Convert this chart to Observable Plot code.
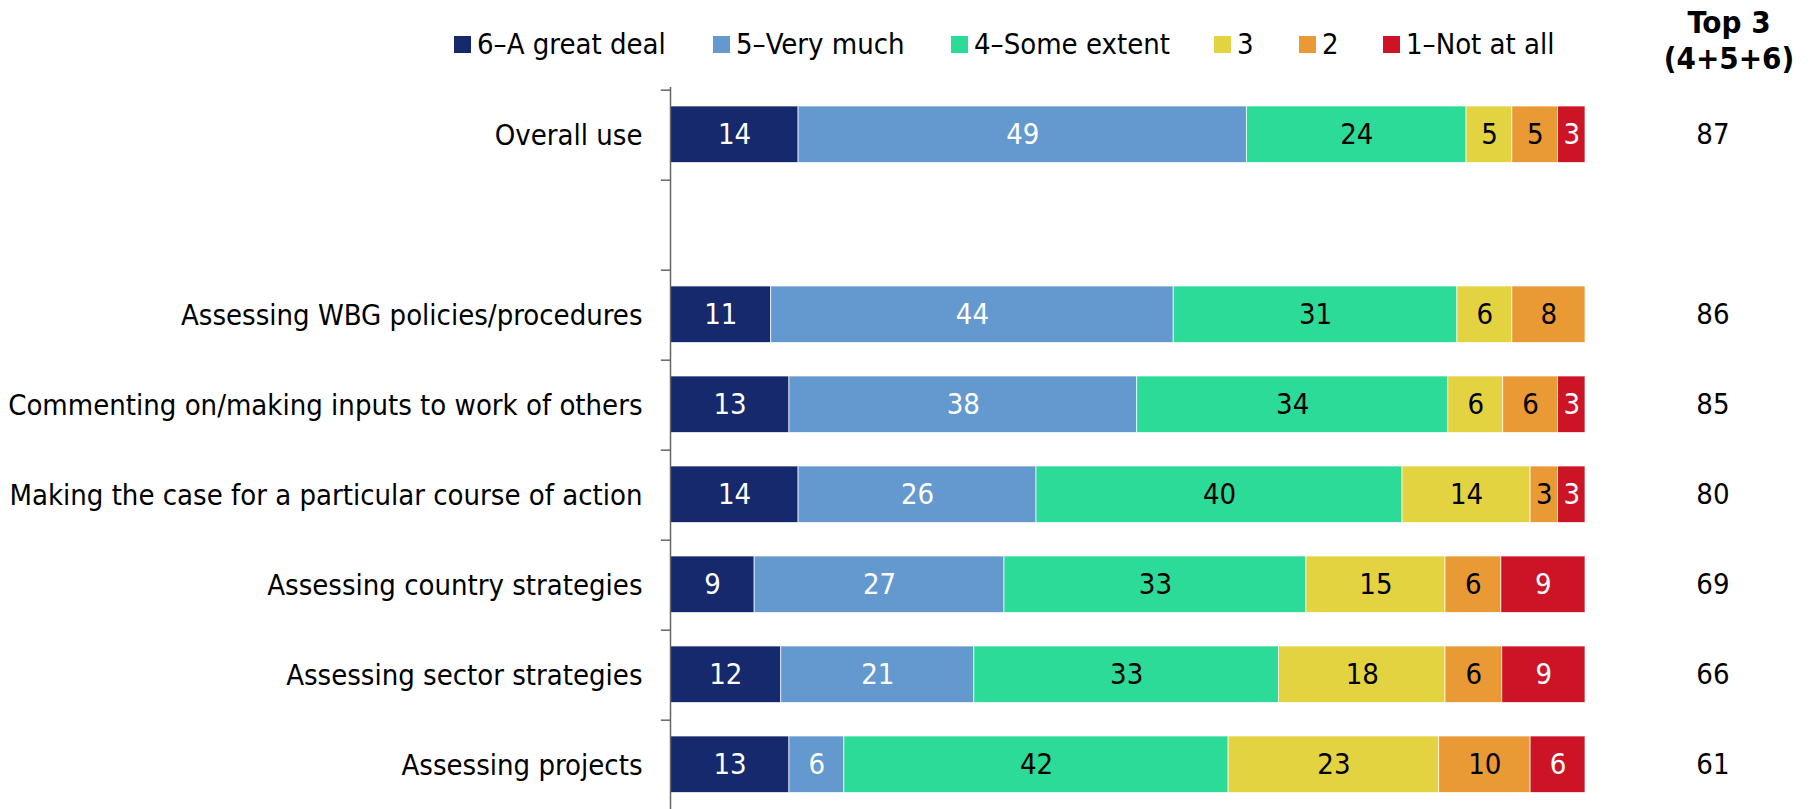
<!DOCTYPE html>
<html>
<head>
<meta charset="utf-8">
<script src="https://cdn.jsdelivr.net/npm/d3@7"></script>
<script src="https://cdn.jsdelivr.net/npm/@observablehq/plot@0.6"></script>
<style>
  html, body { margin: 0; padding: 0; background: #fff; overflow: hidden; }
  body { font-family: "DejaVu Sans Condensed", "DejaVu Sans", sans-serif; }
  #wrap { position: relative; width: 1811px; height: 809px; overflow: hidden; }
  #head { position: relative; width: 1811px; height: 87px; }
  .item { position: absolute; top: 28px; height: 32px; display: flex; align-items: center; font-size: 29px; color: #000; white-space: nowrap; }
  .sw { width: 17px; height: 17px; margin-right: 6px; }
  #top3 { position: absolute; left: 1629px; width: 200px; top: 4px; text-align: center; font-weight: bold; font-size: 31px; line-height: 36px; color: #000; }
  #chart svg { display: block; }
</style>
</head>
<body>
<div id="wrap">
  <div id="head">
    <div id="top3">Top 3<br>(4+5+6)</div>
  </div>
  <div id="chart"></div>
</div>
<script>
const categories = [
  "Overall use",
  " ",
  "Assessing WBG policies/procedures",
  "Commenting on/making inputs to work of others",
  "Making the case for a particular course of action",
  "Assessing country strategies",
  "Assessing sector strategies",
  "Assessing projects"
];
const levels = ["6–A great deal", "5–Very much", "4–Some extent", "3", "2", "1–Not at all"];
const levelColors = ["#15296C", "#6399CE", "#2BDB97", "#E3D340", "#E99A35", "#CC1426"];
const whiteLabelLevels = ["6–A great deal", "5–Very much", "1–Not at all"];

const greatDeal  = [14, null, 11, 13, 14,  9.2, 12.1, 13];
const veryMuch   = [49, null, 44, 38, 26, 27.3, 21.1,  6];
const someExtent = [24, null, 31, 34, 40, 33.0, 33.3, 42];
const three      = [ 5, null,  6,  6, 14, 15.2, 18.2, 23];
const two        = [ 5, null,  8,  6,  3,  6.1,  6.2, 10];
const notAtAll   = [ 3, null,  0,  3,  3,  9.2,  9.1,  6];
const top3       = [87, null, 86, 85, 80, 69, 66, 61];

const series = [greatDeal, veryMuch, someExtent, three, two, notAtAll];

const rows = [];
categories.forEach((cat, i) => {
  series.forEach((vals, j) => {
    const v = vals[i];
    if (v != null && v > 0) rows.push({cat, level: levels[j], value: v});
  });
});
const topRows = categories.map((cat, i) => ({cat, top3: top3[i]})).filter(d => d.top3 != null);

// legend (HTML, above the SVG)
const legendLeft = [454, 713, 951, 1214, 1299, 1383];
const head = document.getElementById("head");
levels.forEach((lv, j) => {
  const it = document.createElement("div");
  it.className = "item";
  it.style.left = legendLeft[j] + "px";
  const sw = document.createElement("div");
  sw.className = "sw";
  sw.style.background = levelColors[j];
  const tx = document.createElement("span");
  tx.textContent = lv;
  it.appendChild(sw); it.appendChild(tx);
  head.appendChild(it);
});

const H = 722, MB = -3;
const bw = (H - MB) / categories.length;
const fontSize = 29;

const chart = Plot.plot({
  width: 1811,
  height: H,
  marginLeft: 670,
  marginRight: 226,
  marginTop: 0,
  marginBottom: MB,
  x: {domain: [0, 100], axis: null},
  y: {domain: categories, padding: 0, axis: null},
  color: {domain: levels, range: levelColors},
  style: {fontFamily: "DejaVu Sans Condensed, DejaVu Sans, sans-serif", fontSize: fontSize + "px", background: "white", overflow: "visible"},
  marks: [
    Plot.barX(rows, Plot.stackX({x: "value", y: "cat", z: "level", fill: "level", insetTop: 16, insetBottom: 17.5, stroke: "white", strokeWidth: 1, strokeOpacity: 0.7})),
    Plot.text(rows, Plot.stackX({x: "value", y: "cat", z: "level", text: d => whiteLabelLevels.includes(d.level) ? String(Math.round(d.value)) : null, fill: "white", fontSize, dy: -1})),
    Plot.text(rows, Plot.stackX({x: "value", y: "cat", z: "level", text: d => whiteLabelLevels.includes(d.level) ? null : String(Math.round(d.value)), fill: "black", fontSize, dy: -1})),
    Plot.text(topRows, {y: "cat", text: d => String(d.top3), frameAnchor: "right", dx: 144, fill: "black", fontSize, dy: -1}),
    Plot.ruleX([0], {stroke: "#666666", strokeWidth: 1.5}),
    Plot.ruleY(categories, {y: d => d, x1: -1, x2: 0, dy: -bw / 2, stroke: "#666666", strokeWidth: 1.5}),
    Plot.axisY({tickSize: 0, tickPadding: 28, fontSize, fill: "black", label: null})
  ]
});
document.getElementById("chart").appendChild(chart);
</script>
</body>
</html>
